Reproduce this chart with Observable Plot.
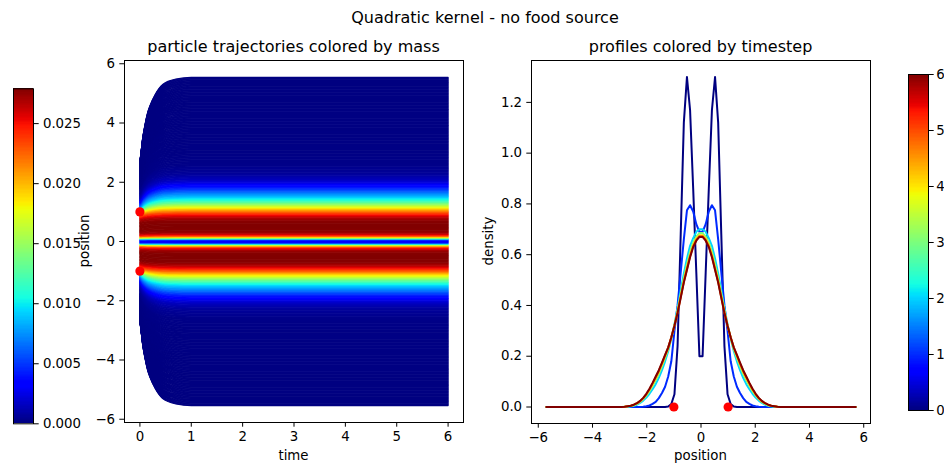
<!DOCTYPE html>
<html><head><meta charset="utf-8">
<script src="https://cdn.jsdelivr.net/npm/d3@7"></script>
<script src="https://cdn.jsdelivr.net/npm/@observablehq/plot@0.6"></script>
<style>
html,body{margin:0;padding:0;background:#fff;overflow:hidden}
#fig{position:relative;width:944px;height:464px;overflow:hidden;font-family:"DejaVu Sans",sans-serif;color:#000;background:#fff}
.txt{position:absolute;white-space:nowrap;transform:translate(-50%,-50%);line-height:1}
.rot{transform:translate(-50%,-50%) rotate(-90deg)}
.part{position:absolute}
</style></head><body><div id="fig"></div>
<script>
// ---------------- data ----------------
const figTitle = "Quadratic kernel - no food source";
const leftTitle = "particle trajectories colored by mass";
const rightTitle = "profiles colored by timestep";

// left panel: particle trajectories
const massMax = 0.0279;
const massTicks = [0, 0.005, 0.01, 0.015, 0.02, 0.025];
const timeTicks = [0, 1, 2, 3, 4, 5, 6];
const positionTicks = [-6, -4, -2, 0, 2, 4, 6];
const trajTimes    = [0, 0.02, 0.05, 0.1, 0.15, 0.2, 0.3, 0.45, 0.7, 1.0, 1.5, 6];
const trajProgress = [0, 0.10, 0.26, 0.44, 0.58, 0.67, 0.80, 0.92, 0.98, 1, 1, 1];
const finalPosAnchors = [0, 0.3, 0.55, 0.82, 1.0, 1.3, 1.6, 2.0, 2.5, 3.0, 4.0, 5.55];
const startPosAnchors = [0, 0.28, 0.5, 0.75, 0.88, 1.02, 1.15, 1.4, 1.75, 2.0, 2.35, 2.7];
const massProfilePos = [0, 0.04, 0.08, 0.12, 0.16, 0.2, 0.25, 0.3, 0.4, 0.55, 0.7, 0.8, 0.9, 1.0, 1.1, 1.2, 1.3, 1.4, 1.5, 1.6, 1.7, 1.8, 1.9, 2.0, 2.1, 2.3, 2.6, 3.0, 4.0, 5.55];
const massProfile    = [0.003, 0.004, 0.009, 0.016, 0.021, 0.024, 0.026, 0.0272, 0.0278, 0.0279, 0.0277, 0.0268, 0.025, 0.0225, 0.0195, 0.0165, 0.0135, 0.011, 0.009, 0.0075, 0.006, 0.0045, 0.0033, 0.0022, 0.0014, 0.0006, 0.0002, 0.0001, 0.00005, 0];
const particleSpacing = 0.02;
const outerFinalPos = 5.55;
const initialPoints = [-1, 1];

// right panel: density profiles (positive half, mirrored)
const profileTimes = [0, 1, 2, 3, 4, 5, 6];
const densityTicks = [0, 0.2, 0.4, 0.6, 0.8, 1.0, 1.2];
const profPosTicks = [-6, -4, -2, 0, 2, 4, 6];
const profileX = [0.058, 0.173, 0.288, 0.403, 0.518, 0.633, 0.748, 0.864, 0.979, 1.094, 1.209, 1.324, 1.439, 1.555, 1.670, 1.785, 1.900, 2.015, 2.130, 2.245, 2.361, 2.476, 2.591, 2.706, 2.821, 2.936, 3.5, 4.5, 5.7];
const density_t0 = [0.20, 0.53, 0.86, 1.17, 1.30, 1.12, 0.68, 0.24, 0.05, 0.012, 0.002, 0, 0, 0, 0, 0, 0, 0, 0, 0, 0, 0, 0, 0, 0, 0, 0, 0, 0];
const density_t1 = [0.69, 0.72, 0.77, 0.795, 0.775, 0.66, 0.53, 0.40, 0.30, 0.18, 0.12, 0.08, 0.055, 0.035, 0.02, 0.012, 0.006, 0.003, 0.001, 0, 0, 0, 0, 0, 0, 0, 0, 0, 0];
const density_t2 = [0.70, 0.69, 0.665, 0.635, 0.585, 0.525, 0.46, 0.39, 0.325, 0.27, 0.22, 0.18, 0.145, 0.115, 0.09, 0.07, 0.052, 0.037, 0.025, 0.016, 0.009, 0.005, 0.002, 0.001, 0, 0, 0, 0, 0];
const density_t3 = [0.685, 0.672, 0.648, 0.612, 0.562, 0.508, 0.445, 0.38, 0.322, 0.272, 0.228, 0.193, 0.16, 0.13, 0.105, 0.083, 0.062, 0.045, 0.031, 0.02, 0.012, 0.007, 0.0035, 0.002, 0.0005, 0, 0, 0, 0];
const density_t4 = [0.677, 0.663, 0.638, 0.60, 0.55, 0.498, 0.437, 0.375, 0.321, 0.274, 0.232, 0.20, 0.168, 0.138, 0.113, 0.089, 0.067, 0.049, 0.034, 0.022, 0.014, 0.008, 0.0045, 0.0025, 0.001, 0, 0, 0, 0];
const density_t5 = [0.673, 0.658, 0.633, 0.594, 0.544, 0.493, 0.433, 0.372, 0.32, 0.275, 0.234, 0.203, 0.172, 0.142, 0.117, 0.093, 0.07, 0.051, 0.035, 0.023, 0.015, 0.009, 0.005, 0.003, 0.001, 0, 0, 0, 0];
const density_t6 = [0.670, 0.655, 0.63, 0.59, 0.54, 0.49, 0.43, 0.37, 0.32, 0.275, 0.235, 0.205, 0.175, 0.145, 0.12, 0.095, 0.072, 0.052, 0.036, 0.024, 0.015, 0.009, 0.005, 0.003, 0.001, 0, 0, 0, 0];
const densities = [density_t0, density_t1, density_t2, density_t3, density_t4, density_t5, density_t6];
const timestepTicks = [0, 1, 2, 3, 4, 5, 6];

// ---------------- jet colormap ----------------
const jetStops = [0, 0.11, 0.125, 0.34, 0.35, 0.375, 0.64, 0.65, 0.66, 0.89, 0.91, 1];
const jetColors = ["#000080","#0000ff","#0000ff","#00dbff","#00e6f7","#15ffe2","#eeff08","#f7f500","#ffec00","#ff1300","#e80000","#800000"];
const jetScale = d3.scaleLinear().domain(jetStops).range(jetColors).interpolate(d3.interpolateRgb).clamp(true);
const jet = t => jetScale(t);

const minus = d => (d < 0 ? "\u2212" + String(Math.abs(d)) : String(d));
const FONT = "DejaVu Sans";
const baseStyle = {fontFamily: FONT, fontSize: "13.33px", color: "#000", background: "transparent", overflow: "visible"};

// ---------------- build tables ----------------
const massOf = d3.scaleLinear().domain(massProfilePos).range(massProfile).clamp(true);
const startOf = d3.scaleLinear().domain(finalPosAnchors).range(startPosAnchors).clamp(true);
const finals = d3.range(0, outerFinalPos + 1e-9, particleSpacing);
const particles = [];
for (const f of finals) {
  particles.push(f);
  if (f > 0) particles.push(-f);
}
particles.sort((a, b) => a - b);
const traj = [];
particles.forEach((xf, id) => {
  const s = Math.sign(xf), a = Math.abs(xf);
  const x0 = s * startOf(a);
  const m = massOf(a);
  trajTimes.forEach((t, k) => {
    traj.push({id, t, pos: x0 + (xf - x0) * trajProgress[k], mass: m});
  });
});

const profRows = [];
profileTimes.forEach((t, i) => {
  const vals = densities[i];
  for (let j = profileX.length - 1; j >= 0; j--) profRows.push({t, x: -profileX[j], d: vals[j]});
  for (let j = 0; j < profileX.length; j++) profRows.push({t, x: profileX[j], d: vals[j]});
});

const fig = document.getElementById("fig");
function place(node, left, top) {
  node.classList.add("part");
  node.style.left = left + "px";
  node.style.top = top + "px";
  fig.appendChild(node);
}
function label(text, cx, cy, size, rotate) {
  const d = document.createElement("div");
  d.className = "txt" + (rotate ? " rot" : "");
  d.textContent = text;
  d.style.left = cx + "px";
  d.style.top = cy + "px";
  d.style.fontSize = size + "px";
  fig.appendChild(d);
}

// ---------------- left panel ----------------
const left = Plot.plot({
  width: 420, height: 434,
  marginLeft: 70, marginRight: 11, marginTop: 30, marginBottom: 42,
  style: baseStyle,
  x: {domain: [-0.3, 6.3], ticks: timeTicks, tickFormat: minus, tickSize: 4.7, tickPadding: 4.7, label: null},
  y: {domain: [-6.11, 6.11], ticks: positionTicks, tickFormat: minus, tickSize: 4.7, tickPadding: 4.7, label: null},
  color: {type: "linear", domain: [0, massMax], interpolate: jet},
  marks: [
    Plot.line(traj, {x: "t", y: "pos", z: "id", stroke: "mass", strokeWidth: 1.2, curve: "monotone-x"}),
    Plot.dot(initialPoints.map(p => ({t: 0, pos: p})), {x: "t", y: "pos", r: 4.6, fill: "#ff0000", stroke: "none"}),
    Plot.frame({stroke: "#000", strokeWidth: 1})
  ]
});
place(left, 54, 30);

// left colorbar
const NB = 256;
const massBands = d3.range(NB).map(i => ({y1: i / NB * massMax, y2: (i + 1) / NB * massMax, v: (i + 0.5) / NB * massMax}));
const cbLeft = Plot.plot({
  width: 100, height: 360,
  marginLeft: 13, marginRight: 67, marginTop: 13.3, marginBottom: 11.7,
  style: baseStyle,
  x: {domain: [0, 1], axis: null},
  y: {domain: [0, massMax], axis: "right", ticks: massTicks, tickFormat: d => d.toFixed(3), tickSize: 4.7, tickPadding: 4.7, label: null},
  color: {type: "linear", domain: [0, massMax], interpolate: jet},
  marks: [
    Plot.rect(massBands, {x1: 0, x2: 1, y1: "y1", y2: "y2", fill: "v", shapeRendering: "crispEdges"}),
    Plot.frame({stroke: "#000", strokeWidth: 1})
  ]
});
place(cbLeft, 0, 75);

// ---------------- right panel ----------------
const right = Plot.plot({
  width: 420, height: 434,
  marginLeft: 51, marginRight: 30, marginTop: 30, marginBottom: 41,
  style: baseStyle,
  x: {domain: [-6.25, 6.25], ticks: profPosTicks, tickFormat: minus, tickSize: 4.7, tickPadding: 4.7, label: null},
  y: {domain: [-0.065, 1.365], ticks: densityTicks, tickFormat: d => d.toFixed(1), tickSize: 4.7, tickPadding: 4.7, label: null},
  color: {type: "linear", domain: [0, 6], interpolate: jet},
  marks: [
    Plot.line(profRows, {x: "x", y: "d", z: "t", stroke: "t", strokeWidth: 2}),
    Plot.dot(initialPoints.map(p => ({x: p, d: 0})), {x: "x", y: "d", r: 4.6, fill: "#ff0000", stroke: "none"}),
    Plot.frame({stroke: "#000", strokeWidth: 1})
  ]
});
place(right, 480, 30);

// right colorbar
const timeBands = d3.range(NB).map(i => ({y1: i / NB * 6, y2: (i + 1) / NB * 6, v: (i + 0.5) / NB * 6}));
const cbRight = Plot.plot({
  width: 54, height: 365,
  marginLeft: 18, marginRight: 16, marginTop: 14, marginBottom: 15,
  style: baseStyle,
  x: {domain: [0, 1], axis: null},
  y: {domain: [0, 6], axis: "right", ticks: timestepTicks, tickFormat: d => String(d), tickSize: 4.7, tickPadding: 3, label: null},
  color: {type: "linear", domain: [0, 6], interpolate: jet},
  marks: [
    Plot.rect(timeBands, {x1: 0, x2: 1, y1: "y1", y2: "y2", fill: "v", shapeRendering: "crispEdges"}),
    Plot.frame({stroke: "#000", strokeWidth: 1})
  ]
});
place(cbRight, 890, 60);

// ---------------- texts ----------------
label(figTitle, 485, 18, 16);
label(leftTitle, 293.5, 47, 16);
label(rightTitle, 700.5, 47, 16);
label("time", 293.5, 456, 13.33);
label("position", 700.5, 456, 13.33);
label("position", 85, 241, 13.33, true);
label("density", 489, 241, 13.33, true);
</script></body></html>
